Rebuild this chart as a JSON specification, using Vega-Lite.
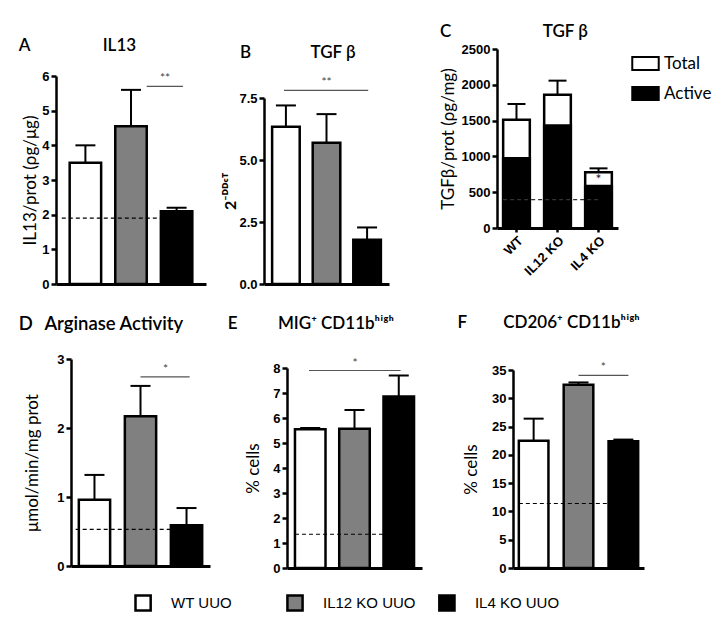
{
  "$schema": "https://vega.github.io/schema/vega-lite/v6.json",
  "background": "white",
  "padding": {"left": 17, "top": 22, "right": 2, "bottom": 2},
  "config": {
    "view": {"stroke": null},
    "font": "Lato",
    "axis": {"grid": false, "domainColor": "black", "domainWidth": 2.5, "tickColor": "black", "tickWidth": 2.5, "tickSize": 5, "labelFont": "Liberation Sans", "labelFontWeight": "bold", "labelFontSize": 13, "labelColor": "black", "labelPadding": 2, "titleFont": "Lato", "titleFontWeight": "normal", "titleFontSize": 17, "titleColor": "black", "titlePadding": 4},
    "axisX": {"labels": false, "ticks": false, "domainWidth": 3},
    "title": {"font": "Lato", "fontSize": 17, "fontWeight": 600, "color": "black", "anchor": "start", "frame": "bounds"}
  },
  "datasets": {
    "bars": [
      {"panel": "A", "group": "WT UUO", "value": 3.5, "hi": 4.0},
      {"panel": "A", "group": "IL12 KO UUO", "value": 4.55, "hi": 5.6},
      {"panel": "A", "group": "IL4 KO UUO", "value": 2.1, "hi": 2.2},
      {"panel": "B", "group": "WT UUO", "value": 6.34, "hi": 7.2},
      {"panel": "B", "group": "IL12 KO UUO", "value": 5.7, "hi": 6.85},
      {"panel": "B", "group": "IL4 KO UUO", "value": 1.78, "hi": 2.28},
      {"panel": "C", "group": "WT", "value": 1513, "hi": 1732},
      {"panel": "C", "group": "IL12 KO", "value": 1862, "hi": 2058},
      {"panel": "C", "group": "IL4 KO", "value": 777, "hi": 833},
      {"panel": "D", "group": "WT UUO", "value": 0.96, "hi": 1.32},
      {"panel": "D", "group": "IL12 KO UUO", "value": 2.17, "hi": 2.61},
      {"panel": "D", "group": "IL4 KO UUO", "value": 0.59, "hi": 0.84},
      {"panel": "E", "group": "WT UUO", "value": 5.55, "hi": 5.6},
      {"panel": "E", "group": "IL12 KO UUO", "value": 5.57, "hi": 6.32},
      {"panel": "E", "group": "IL4 KO UUO", "value": 6.86, "hi": 7.7},
      {"panel": "F", "group": "WT UUO", "value": 22.5, "hi": 26.4},
      {"panel": "F", "group": "IL12 KO UUO", "value": 32.4, "hi": 32.8},
      {"panel": "F", "group": "IL4 KO UUO", "value": 22.4, "hi": 22.7}
    ],
    "tgf": [
      {"group": "WT", "component": "Total", "value": 1513},
      {"group": "IL12 KO", "component": "Total", "value": 1862},
      {"group": "IL4 KO", "component": "Total", "value": 777},
      {"group": "WT", "component": "Active", "value": 975},
      {"group": "IL12 KO", "component": "Active", "value": 1430},
      {"group": "IL4 KO", "component": "Active", "value": 588}
    ],
    "base": [
      {"panel": "A", "y": 1.9, "from": "WT UUO", "to": "IL4 KO UUO"},
      {"panel": "C", "y": 396, "from": "WT", "to": "IL4 KO"},
      {"panel": "D", "y": 0.53, "from": "WT UUO", "to": "IL4 KO UUO"},
      {"panel": "E", "y": 1.35, "from": "WT UUO", "to": "IL4 KO UUO"},
      {"panel": "F", "y": 11.4, "from": "WT UUO", "to": "IL4 KO UUO"}
    ],
    "sig": [
      {"panel": "A", "from": "IL12 KO UUO", "to": "IL4 KO UUO", "y": 5.7, "label": "**"},
      {"panel": "B", "from": "WT UUO", "to": "IL4 KO UUO", "y": 7.81, "label": "**"},
      {"panel": "C", "from": "IL4 KO", "to": "IL4 KO", "y": 670, "label": "*"},
      {"panel": "D", "from": "IL12 KO UUO", "to": "IL4 KO UUO", "y": 2.74, "label": "*"},
      {"panel": "E", "from": "WT UUO", "to": "IL4 KO UUO", "y": 7.9, "label": "*"},
      {"panel": "F", "from": "IL12 KO UUO", "to": "IL4 KO UUO", "y": 34.05, "label": "*"}
    ],
    "groups": [
      {"group": "WT UUO"},
      {"group": "IL12 KO UUO"},
      {"group": "IL4 KO UUO"}
    ],
    "none": []
  },
  "resolve": {"scale": {"fill": "independent", "x": "independent", "y": "independent"}},
  "columns": 1, "align": "none", "spacing": 15,
  "concat": [
    {
      "columns": 1, "align": "none", "spacing": 22,
      "resolve": {"scale": {"fill": "independent", "x": "independent", "y": "independent"}},
      "concat": [
        {
          "columns": 2, "align": "none", "spacing": 0,
          "resolve": {"scale": {"fill": "independent", "x": "independent", "y": "independent"}},
          "concat": [
            {"width": 1, "height": 1, "data": {"name": "none"}, "mark": "point", "encoding": {}},
            {
              "columns": 2, "align": "none", "spacing": 16,
              "resolve": {"scale": {"fill": "independent", "x": "independent", "y": "independent"}},
              "concat": [
                {
                  "spacing": 0,
                  "resolve": {"scale": {"fill": "independent", "x": "independent", "y": "independent"}},
                  "vconcat": [
                    {"width": 1, "height": 15, "data": {"name": "none"}, "mark": "point", "encoding": {}},
                    {
                      "width": 150, "height": 208,
                      "title": {"text": "A\u2003\u2003\u2003\u2003\u2003\u2002IL13", "dx": -3, "offset": 15},
                      "layer": [
                        {"data": {"name": "bars"}, "transform": [{"filter": "datum.panel === 'A'"}],
                         "mark": {"type": "bar", "stroke": "black", "strokeWidth": 2.5},
                         "encoding": {
                           "x": {"field": "group", "type": "nominal", "sort": null, "scale": {"domain": ["WT UUO", "IL12 KO UUO", "IL4 KO UUO"], "paddingInner": 0.31, "paddingOuter": 0.3}, "axis": {"title": null}},
                           "y": {"field": "value", "type": "quantitative", "scale": {"domain": [0, 6], "nice": false}, "axis": {"values": [0, 1, 2, 3, 4, 5, 6], "format": "d", "title": "IL13/prot (ρg/μg)", "titlePadding": 2}},
                           "fill": {"field": "group", "type": "nominal", "scale": {"domain": ["WT UUO", "IL12 KO UUO", "IL4 KO UUO"], "range": ["white", "#808080", "black"]}, "legend": null}}},
                        {"data": {"name": "bars"}, "transform": [{"filter": "datum.panel === 'A'"}],
                         "mark": {"type": "rule", "strokeWidth": 2, "color": "black"},
                         "encoding": {"x": {"field": "group", "type": "nominal", "axis": {"title": null}}, "y": {"field": "value", "type": "quantitative", "axis": {"values": [0, 1, 2, 3, 4, 5, 6], "format": "d", "title": "IL13/prot (ρg/μg)", "titlePadding": 2}}, "y2": {"field": "hi"}}},
                        {"data": {"name": "bars"}, "transform": [{"filter": "datum.panel === 'A'"}],
                         "mark": {"type": "tick", "thickness": 2, "size": 20, "color": "black", "opacity": 1},
                         "encoding": {"x": {"field": "group", "type": "nominal", "axis": {"title": null}}, "y": {"field": "hi", "type": "quantitative", "axis": {"values": [0, 1, 2, 3, 4, 5, 6], "format": "d", "title": "IL13/prot (ρg/μg)", "titlePadding": 2}}}},
                        {"data": {"name": "base"}, "transform": [{"filter": "datum.panel === 'A'"}],
                         "mark": {"type": "rule", "strokeDash": [4, 3], "strokeWidth": 1.2, "color": "black"},
                         "encoding": {"x": {"field": "from", "type": "nominal", "bandPosition": -0.25, "axis": {"title": null}}, "x2": {"field": "to", "bandPosition": 0.5}, "y": {"field": "y", "type": "quantitative", "axis": {"values": [0, 1, 2, 3, 4, 5, 6], "format": "d", "title": "IL13/prot (ρg/μg)", "titlePadding": 2}}}},
                        {"data": {"name": "sig"}, "transform": [{"filter": "datum.panel === 'A'"}],
                         "mark": {"type": "rule", "strokeWidth": 1.2, "color": "#555"},
                         "encoding": {"x": {"field": "from", "type": "nominal", "bandPosition": 1.0, "axis": {"title": null}}, "x2": {"field": "to", "bandPosition": 0.7}, "y": {"field": "y", "type": "quantitative", "axis": {"values": [0, 1, 2, 3, 4, 5, 6], "format": "d", "title": "IL13/prot (ρg/μg)", "titlePadding": 2}}}},
                        {"data": {"name": "sig"}, "transform": [{"filter": "datum.panel === 'A'"}],
                         "mark": {"type": "text", "baseline": "bottom", "dy": -1, "fontSize": 12, "color": "#444"},
                         "encoding": {"x": {"field": "from", "type": "nominal", "bandPosition": 1.58, "axis": {"title": null}}, "y": {"field": "y", "type": "quantitative", "axis": {"values": [0, 1, 2, 3, 4, 5, 6], "format": "d", "title": "IL13/prot (ρg/μg)", "titlePadding": 2}}, "text": {"field": "label"}}}
                      ]
                    }
                  ]
                },
                {
                  "columns": 2, "align": "none", "spacing": 50,
                  "resolve": {"scale": {"fill": "independent", "x": "independent", "y": "independent"}},
                  "concat": [
                    {
                      "spacing": 0,
                      "resolve": {"scale": {"fill": "independent", "x": "independent", "y": "independent"}},
                      "vconcat": [
                        {"width": 1, "height": 22, "data": {"name": "none"}, "mark": "point", "encoding": {}},
                        {
                          "width": 125, "height": 186,
                          "title": {"text": "B\u2003\u2003\u2003\u2003\u2002TGF β", "dx": 17, "offset": 14},
                          "layer": [
                            {"data": {"name": "bars"}, "transform": [{"filter": "datum.panel === 'B'"}],
                             "mark": {"type": "bar", "stroke": "black", "strokeWidth": 2.5},
                             "encoding": {
                               "x": {"field": "group", "type": "nominal", "sort": null, "scale": {"domain": ["WT UUO", "IL12 KO UUO", "IL4 KO UUO"], "paddingInner": 0.32, "paddingOuter": 0.2}, "axis": {"title": null}},
                               "y": {"field": "value", "type": "quantitative", "scale": {"domain": [0, 7.5], "nice": false}, "axis": {"values": [0, 2.5, 5, 7.5], "format": ".1f", "title": "2⁻ᴰᴰᶜᵀ", "titleFontWeight": "bold", "titleFontSize": 16, "titlePadding": 0}},
                               "fill": {"field": "group", "type": "nominal", "scale": {"domain": ["WT UUO", "IL12 KO UUO", "IL4 KO UUO"], "range": ["white", "#808080", "black"]}, "legend": null}}},
                            {"data": {"name": "bars"}, "transform": [{"filter": "datum.panel === 'B'"}],
                             "mark": {"type": "rule", "strokeWidth": 2, "color": "black"},
                             "encoding": {"x": {"field": "group", "type": "nominal", "axis": {"title": null}}, "y": {"field": "value", "type": "quantitative", "axis": {"values": [0, 2.5, 5, 7.5], "format": ".1f", "title": "2⁻ᴰᴰᶜᵀ", "titleFontWeight": "bold", "titleFontSize": 16, "titlePadding": 0}}, "y2": {"field": "hi"}}},
                            {"data": {"name": "bars"}, "transform": [{"filter": "datum.panel === 'B'"}],
                             "mark": {"type": "tick", "thickness": 2, "size": 20, "color": "black", "opacity": 1},
                             "encoding": {"x": {"field": "group", "type": "nominal", "axis": {"title": null}}, "y": {"field": "hi", "type": "quantitative", "axis": {"values": [0, 2.5, 5, 7.5], "format": ".1f", "title": "2⁻ᴰᴰᶜᵀ", "titleFontWeight": "bold", "titleFontSize": 16, "titlePadding": 0}}}},
                            {"data": {"name": "sig"}, "transform": [{"filter": "datum.panel === 'B'"}],
                             "mark": {"type": "rule", "strokeWidth": 1.2, "color": "#555"},
                             "encoding": {"x": {"field": "from", "type": "nominal", "bandPosition": 0.43, "axis": {"title": null}}, "x2": {"field": "to", "bandPosition": 0.54}, "y": {"field": "y", "type": "quantitative", "axis": {"values": [0, 2.5, 5, 7.5], "format": ".1f", "title": "2⁻ᴰᴰᶜᵀ", "titleFontWeight": "bold", "titleFontSize": 16, "titlePadding": 0}}}},
                            {"data": {"name": "sig"}, "transform": [{"filter": "datum.panel === 'B'"}],
                             "mark": {"type": "text", "baseline": "bottom", "dy": -1, "fontSize": 12, "color": "#444"},
                             "encoding": {"x": {"field": "from", "type": "nominal", "bandPosition": 1.97, "axis": {"title": null}}, "y": {"field": "y", "type": "quantitative", "axis": {"values": [0, 2.5, 5, 7.5], "format": ".1f", "title": "2⁻ᴰᴰᶜᵀ", "titleFontWeight": "bold", "titleFontSize": 16, "titlePadding": 0}}, "text": {"field": "label"}}}
                          ]
                        }
                      ]
                    },
                    {
                      "spacing": 0,
                      "resolve": {"scale": {"fill": "independent", "x": "independent", "y": "independent"}},
                      "vconcat": [
                        {"width": 1, "height": 1, "data": {"name": "none"}, "mark": "point", "encoding": {}},
                        {
                          "width": 121, "height": 179,
                          "title": {"text": "C\u2003\u2003\u2003\u2003\u2003\u2003\u2003\u2009TGF β", "dx": 1, "offset": 2},
                          "layer": [
                            {"data": {"name": "tgf"},
                             "mark": {"type": "bar", "stroke": "black", "strokeWidth": 2.5},
                             "encoding": {
                               "x": {"field": "group", "type": "nominal", "sort": null, "scale": {"domain": ["WT", "IL12 KO", "IL4 KO"], "paddingInner": 0.35, "paddingOuter": 0.15}, "axis": {"title": null, "labels": true, "ticks": true, "labelAngle": -45, "labelFontSize": 13, "tickSize": 4}},
                               "y": {"field": "value", "type": "quantitative", "stack": null, "scale": {"domain": [0, 2500], "nice": false}, "axis": {"values": [0, 500, 1000, 1500, 2000, 2500], "format": "d", "title": "TGFβ/prot (ρg/mg)", "titlePadding": 4}},
                               "fill": {"field": "component", "type": "nominal", "scale": {"domain": ["Total", "Active"], "range": ["white", "black"]},
                                 "legend": {"title": null, "orient": "right", "offset": 13, "symbolType": "M-1,-0.5H1V0.5H-1Z", "symbolSize": 700, "symbolStrokeColor": "black", "symbolStrokeWidth": 2, "symbolOpacity": 1, "labelFontSize": 17, "labelFont": "Lato", "labelColor": "black", "rowPadding": 4, "padding": 0}}}},
                            {"data": {"name": "bars"}, "transform": [{"filter": "datum.panel === 'C'"}],
                             "mark": {"type": "rule", "strokeWidth": 2, "color": "black"},
                             "encoding": {"x": {"field": "group", "type": "nominal", "axis": {"title": null, "labels": true, "ticks": true, "labelAngle": -45, "labelFontSize": 13, "tickSize": 4}}, "y": {"field": "value", "type": "quantitative", "axis": {"values": [0, 500, 1000, 1500, 2000, 2500], "format": "d", "title": "TGFβ/prot (ρg/mg)", "titlePadding": 4}}, "y2": {"field": "hi"}}},
                            {"data": {"name": "bars"}, "transform": [{"filter": "datum.panel === 'C'"}],
                             "mark": {"type": "tick", "thickness": 2, "size": 18, "color": "black", "opacity": 1},
                             "encoding": {"x": {"field": "group", "type": "nominal", "axis": {"title": null, "labels": true, "ticks": true, "labelAngle": -45, "labelFontSize": 13, "tickSize": 4}}, "y": {"field": "hi", "type": "quantitative", "axis": {"values": [0, 500, 1000, 1500, 2000, 2500], "format": "d", "title": "TGFβ/prot (ρg/mg)", "titlePadding": 4}}}},
                            {"data": {"name": "base"}, "transform": [{"filter": "datum.panel === 'C'"}],
                             "mark": {"type": "rule", "strokeDash": [4, 3], "strokeWidth": 1.2, "color": "#333"},
                             "encoding": {"x": {"field": "from", "type": "nominal", "bandPosition": 0, "axis": {"title": null, "labels": true, "ticks": true, "labelAngle": -45, "labelFontSize": 13, "tickSize": 4}}, "x2": {"field": "to", "bandPosition": 0.5}, "y": {"field": "y", "type": "quantitative", "axis": {"values": [0, 500, 1000, 1500, 2000, 2500], "format": "d", "title": "TGFβ/prot (ρg/mg)", "titlePadding": 4}}}},
                            {"data": {"name": "sig"}, "transform": [{"filter": "datum.panel === 'C'"}],
                             "mark": {"type": "text", "baseline": "middle", "fontSize": 14, "color": "#222"},
                             "encoding": {"x": {"field": "from", "type": "nominal", "axis": {"title": null, "labels": true, "ticks": true, "labelAngle": -45, "labelFontSize": 13, "tickSize": 4}}, "y": {"field": "y", "type": "quantitative", "axis": {"values": [0, 500, 1000, 1500, 2000, 2500], "format": "d", "title": "TGFβ/prot (ρg/mg)", "titlePadding": 4}}, "text": {"field": "label"}}}
                          ]
                        }
                      ]
                    }
                  ]
                }
              ]
            }
          ]
        },
        {
          "columns": 2, "align": "none", "spacing": 0,
          "resolve": {"scale": {"fill": "independent", "x": "independent", "y": "independent"}},
          "concat": [
            {"width": 1, "height": 1, "data": {"name": "none"}, "mark": "point", "encoding": {}},
            {
              "columns": 2, "align": "none", "spacing": 17,
              "resolve": {"scale": {"fill": "independent", "x": "independent", "y": "independent"}},
              "concat": [
                {
                  "spacing": 0,
                  "resolve": {"scale": {"fill": "independent", "x": "independent", "y": "independent"}},
                  "vconcat": [
                    {"width": 1, "height": 1, "data": {"name": "none"}, "mark": "point", "encoding": {}},
                    {
                      "width": 139, "height": 207,
                      "title": {"text": "D\u2002\u2009Arginase Activity", "dx": -5, "offset": 20, "fontSize": 18.5},
                      "layer": [
                        {"data": {"name": "bars"}, "transform": [{"filter": "datum.panel === 'D'"}],
                         "mark": {"type": "bar", "stroke": "black", "strokeWidth": 2.5},
                         "encoding": {
                           "x": {"field": "group", "type": "nominal", "sort": null, "scale": {"domain": ["WT UUO", "IL12 KO UUO", "IL4 KO UUO"], "paddingInner": 0.32, "paddingOuter": 0.17}, "axis": {"title": null}},
                           "y": {"field": "value", "type": "quantitative", "scale": {"domain": [0, 3], "nice": false}, "axis": {"values": [0, 1, 2, 3], "format": "d", "title": "μmol/min/mg prot", "titlePadding": 15}},
                           "fill": {"field": "group", "type": "nominal", "scale": {"domain": ["WT UUO", "IL12 KO UUO", "IL4 KO UUO"], "range": ["white", "#808080", "black"]}, "legend": null}}},
                        {"data": {"name": "bars"}, "transform": [{"filter": "datum.panel === 'D'"}],
                         "mark": {"type": "rule", "strokeWidth": 2, "color": "black"},
                         "encoding": {"x": {"field": "group", "type": "nominal", "axis": {"title": null}}, "y": {"field": "value", "type": "quantitative", "axis": {"values": [0, 1, 2, 3], "format": "d", "title": "μmol/min/mg prot", "titlePadding": 15}}, "y2": {"field": "hi"}}},
                        {"data": {"name": "bars"}, "transform": [{"filter": "datum.panel === 'D'"}],
                         "mark": {"type": "tick", "thickness": 2, "size": 20, "color": "black", "opacity": 1},
                         "encoding": {"x": {"field": "group", "type": "nominal", "axis": {"title": null}}, "y": {"field": "hi", "type": "quantitative", "axis": {"values": [0, 1, 2, 3], "format": "d", "title": "μmol/min/mg prot", "titlePadding": 15}}}},
                        {"data": {"name": "base"}, "transform": [{"filter": "datum.panel === 'D'"}],
                         "mark": {"type": "rule", "strokeDash": [4, 3], "strokeWidth": 1.2, "color": "black"},
                         "encoding": {"x": {"field": "from", "type": "nominal", "bandPosition": -0.1, "axis": {"title": null}}, "x2": {"field": "to", "bandPosition": 0.5}, "y": {"field": "y", "type": "quantitative", "axis": {"values": [0, 1, 2, 3], "format": "d", "title": "μmol/min/mg prot", "titlePadding": 15}}}},
                        {"data": {"name": "sig"}, "transform": [{"filter": "datum.panel === 'D'"}],
                         "mark": {"type": "rule", "strokeWidth": 1.2, "color": "#555"},
                         "encoding": {"x": {"field": "from", "type": "nominal", "bandPosition": 0.5, "axis": {"title": null}}, "x2": {"field": "to", "bandPosition": 0.6}, "y": {"field": "y", "type": "quantitative", "axis": {"values": [0, 1, 2, 3], "format": "d", "title": "μmol/min/mg prot", "titlePadding": 15}}}},
                        {"data": {"name": "sig"}, "transform": [{"filter": "datum.panel === 'D'"}],
                         "mark": {"type": "text", "baseline": "bottom", "dy": -1, "fontSize": 12, "color": "#444"},
                         "encoding": {"x": {"field": "from", "type": "nominal", "bandPosition": 1.3, "axis": {"title": null}}, "y": {"field": "y", "type": "quantitative", "axis": {"values": [0, 1, 2, 3], "format": "d", "title": "μmol/min/mg prot", "titlePadding": 15}}, "text": {"field": "label"}}}
                      ]
                    }
                  ]
                },
                {
                  "columns": 2, "align": "none", "spacing": 35,
                  "resolve": {"scale": {"fill": "independent", "x": "independent", "y": "independent"}},
                  "concat": [
                    {
                      "spacing": 0,
                      "resolve": {"scale": {"fill": "independent", "x": "independent", "y": "independent"}},
                      "vconcat": [
                        {"width": 1, "height": 1, "data": {"name": "none"}, "mark": "point", "encoding": {}},
                        {
                          "width": 135, "height": 200,
                          "title": {"text": "E\u2003\u2003\u2003\u2009MIG⁺ CD11bʰⁱᵍʰ", "dx": -17, "offset": 24},
                          "layer": [
                            {"data": {"name": "bars"}, "transform": [{"filter": "datum.panel === 'E'"}],
                             "mark": {"type": "bar", "stroke": "black", "strokeWidth": 2.5},
                             "encoding": {
                               "x": {"field": "group", "type": "nominal", "sort": null, "scale": {"domain": ["WT UUO", "IL12 KO UUO", "IL4 KO UUO"], "paddingInner": 0.31, "paddingOuter": 0.18}, "axis": {"title": null}},
                               "y": {"field": "value", "type": "quantitative", "scale": {"domain": [0, 8], "nice": false}, "axis": {"values": [0, 1, 2, 3, 4, 5, 6, 7, 8], "format": "d", "title": "% cells", "titlePadding": 10}},
                               "fill": {"field": "group", "type": "nominal", "scale": {"domain": ["WT UUO", "IL12 KO UUO", "IL4 KO UUO"], "range": ["white", "#808080", "black"]}, "legend": null}}},
                            {"data": {"name": "bars"}, "transform": [{"filter": "datum.panel === 'E'"}],
                             "mark": {"type": "rule", "strokeWidth": 2, "color": "black"},
                             "encoding": {"x": {"field": "group", "type": "nominal", "axis": {"title": null}}, "y": {"field": "value", "type": "quantitative", "axis": {"values": [0, 1, 2, 3, 4, 5, 6, 7, 8], "format": "d", "title": "% cells", "titlePadding": 10}}, "y2": {"field": "hi"}}},
                            {"data": {"name": "bars"}, "transform": [{"filter": "datum.panel === 'E'"}],
                             "mark": {"type": "tick", "thickness": 2, "size": 20, "color": "black", "opacity": 1},
                             "encoding": {"x": {"field": "group", "type": "nominal", "axis": {"title": null}}, "y": {"field": "hi", "type": "quantitative", "axis": {"values": [0, 1, 2, 3, 4, 5, 6, 7, 8], "format": "d", "title": "% cells", "titlePadding": 10}}}},
                            {"data": {"name": "base"}, "transform": [{"filter": "datum.panel === 'E'"}],
                             "mark": {"type": "rule", "strokeDash": [4, 3], "strokeWidth": 1.2, "color": "black"},
                             "encoding": {"x": {"field": "from", "type": "nominal", "bandPosition": 0, "axis": {"title": null}}, "x2": {"field": "to", "bandPosition": 0.5}, "y": {"field": "y", "type": "quantitative", "axis": {"values": [0, 1, 2, 3, 4, 5, 6, 7, 8], "format": "d", "title": "% cells", "titlePadding": 10}}}},
                            {"data": {"name": "sig"}, "transform": [{"filter": "datum.panel === 'E'"}],
                             "mark": {"type": "rule", "strokeWidth": 1.2, "color": "#555"},
                             "encoding": {"x": {"field": "from", "type": "nominal", "bandPosition": 0.46, "axis": {"title": null}}, "x2": {"field": "to", "bandPosition": 0.56}, "y": {"field": "y", "type": "quantitative", "axis": {"values": [0, 1, 2, 3, 4, 5, 6, 7, 8], "format": "d", "title": "% cells", "titlePadding": 10}}}},
                            {"data": {"name": "sig"}, "transform": [{"filter": "datum.panel === 'E'"}],
                             "mark": {"type": "text", "baseline": "bottom", "dy": -1, "fontSize": 12, "color": "#444"},
                             "encoding": {"x": {"field": "from", "type": "nominal", "bandPosition": 1.97, "axis": {"title": null}}, "y": {"field": "y", "type": "quantitative", "axis": {"values": [0, 1, 2, 3, 4, 5, 6, 7, 8], "format": "d", "title": "% cells", "titlePadding": 10}}, "text": {"field": "label"}}}
                          ]
                        }
                      ]
                    },
                    {
                      "spacing": 0,
                      "resolve": {"scale": {"fill": "independent", "x": "independent", "y": "independent"}},
                      "vconcat": [
                        {"width": 1, "height": 1, "data": {"name": "none"}, "mark": "point", "encoding": {}},
                        {
                          "width": 131, "height": 198,
                          "title": {"text": "F\u2003\u2003\u2002\u2009CD206⁺ CD11bʰⁱᵍʰ", "dx": -5, "offset": 29},
                          "layer": [
                            {"data": {"name": "bars"}, "transform": [{"filter": "datum.panel === 'F'"}],
                             "mark": {"type": "bar", "stroke": "black", "strokeWidth": 2.5},
                             "encoding": {
                               "x": {"field": "group", "type": "nominal", "sort": null, "scale": {"domain": ["WT UUO", "IL12 KO UUO", "IL4 KO UUO"], "paddingInner": 0.34, "paddingOuter": 0.13}, "axis": {"title": null}},
                               "y": {"field": "value", "type": "quantitative", "scale": {"domain": [0, 35], "nice": false}, "axis": {"values": [0, 5, 10, 15, 20, 25, 30, 35], "format": "d", "title": "% cells", "titlePadding": 11}},
                               "fill": {"field": "group", "type": "nominal", "scale": {"domain": ["WT UUO", "IL12 KO UUO", "IL4 KO UUO"], "range": ["white", "#808080", "black"]}, "legend": null}}},
                            {"data": {"name": "bars"}, "transform": [{"filter": "datum.panel === 'F'"}],
                             "mark": {"type": "rule", "strokeWidth": 2, "color": "black"},
                             "encoding": {"x": {"field": "group", "type": "nominal", "axis": {"title": null}}, "y": {"field": "value", "type": "quantitative", "axis": {"values": [0, 5, 10, 15, 20, 25, 30, 35], "format": "d", "title": "% cells", "titlePadding": 11}}, "y2": {"field": "hi"}}},
                            {"data": {"name": "bars"}, "transform": [{"filter": "datum.panel === 'F'"}],
                             "mark": {"type": "tick", "thickness": 2, "size": 20, "color": "black", "opacity": 1},
                             "encoding": {"x": {"field": "group", "type": "nominal", "axis": {"title": null}}, "y": {"field": "hi", "type": "quantitative", "axis": {"values": [0, 5, 10, 15, 20, 25, 30, 35], "format": "d", "title": "% cells", "titlePadding": 11}}}},
                            {"data": {"name": "base"}, "transform": [{"filter": "datum.panel === 'F'"}],
                             "mark": {"type": "rule", "strokeDash": [4, 3], "strokeWidth": 1.2, "color": "black"},
                             "encoding": {"x": {"field": "from", "type": "nominal", "bandPosition": 0, "axis": {"title": null}}, "x2": {"field": "to", "bandPosition": 0.5}, "y": {"field": "y", "type": "quantitative", "axis": {"values": [0, 5, 10, 15, 20, 25, 30, 35], "format": "d", "title": "% cells", "titlePadding": 11}}}},
                            {"data": {"name": "sig"}, "transform": [{"filter": "datum.panel === 'F'"}],
                             "mark": {"type": "rule", "strokeWidth": 1.2, "color": "#555"},
                             "encoding": {"x": {"field": "from", "type": "nominal", "bandPosition": 0.5, "axis": {"title": null}}, "x2": {"field": "to", "bandPosition": 0.67}, "y": {"field": "y", "type": "quantitative", "axis": {"values": [0, 5, 10, 15, 20, 25, 30, 35], "format": "d", "title": "% cells", "titlePadding": 11}}}},
                            {"data": {"name": "sig"}, "transform": [{"filter": "datum.panel === 'F'"}],
                             "mark": {"type": "text", "baseline": "bottom", "dy": -1, "fontSize": 12, "color": "#444"},
                             "encoding": {"x": {"field": "from", "type": "nominal", "bandPosition": 1.34, "axis": {"title": null}}, "y": {"field": "y", "type": "quantitative", "axis": {"values": [0, 5, 10, 15, 20, 25, 30, 35], "format": "d", "title": "% cells", "titlePadding": 11}}, "text": {"field": "label"}}}
                          ]
                        }
                      ]
                    }
                  ]
                }
              ]
            }
          ]
        }
      ]
    },
    {
      "width": 556, "height": 20,
      "data": {"name": "groups"},
      "layer": [
        {"mark": {"type": "square", "size": 230, "stroke": "black", "strokeWidth": 2.5, "opacity": 1},
         "encoding": {
           "x": {"field": "group", "type": "nominal", "sort": null, "scale": {"type": "point", "padding": 0.83, "domain": ["WT UUO", "IL12 KO UUO", "IL4 KO UUO"]}, "axis": null},
           "fill": {"field": "group", "type": "nominal", "scale": {"domain": ["WT UUO", "IL12 KO UUO", "IL4 KO UUO"], "range": ["white", "#808080", "black"]}, "legend": null}}},
        {"mark": {"type": "text", "align": "left", "dx": 28, "fontSize": 15, "font": "Liberation Sans", "color": "black"},
         "encoding": {
           "x": {"field": "group", "type": "nominal", "sort": null, "axis": null},
           "text": {"field": "group"}}}
      ]
    }
  ]
}
